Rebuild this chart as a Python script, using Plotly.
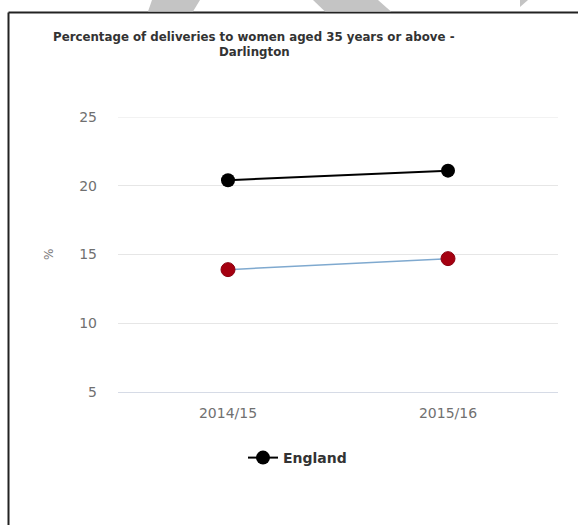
import plotly.graph_objects as go

# Financial years on the category axis
periods = ["2014/15", "2015/16"]

# Percentage of deliveries to women aged 35+
england = [20.4, 21.1]
darlington = [13.9, 14.7]

y_ticks = [5, 10, 15, 20, 25]
y_top = 25

title_lines = ["Percentage of deliveries to women aged 35 years or above -", "Darlington"]

W, H = 578, 525
ML, MR, MT, MB = 118, 20, 117, 133
PW, PH = W - ML - MR, H - MT - MB


def px(x):
    return (x - ML) / PW


def py(y):
    return (H - MB - y) / PH


fig = go.Figure()

fig.add_trace(go.Scatter(
    x=periods, y=england, name="England", mode="lines+markers",
    line=dict(color="#000000", width=2),
    marker=dict(color="#000000", size=14, symbol="circle"),
    showlegend=True,
))

fig.add_trace(go.Scatter(
    x=periods, y=darlington, name="Darlington", mode="lines+markers",
    line=dict(color="#7fa9cf", width=1.5),
    marker=dict(color="#a50010", size=14, symbol="circle",
                line=dict(color="#8a0010", width=1)),
    showlegend=False,
))

# Frame around the chart panel, top gridline and the grey wedges above the frame
shapes = [
    dict(type="line", xref="paper", yref="paper",
         x0=px(8.5), x1=px(W + 5), y0=py(12.5), y1=py(12.5),
         line=dict(color="#222222", width=2)),
    dict(type="line", xref="paper", yref="paper",
         x0=px(8.5), x1=px(8.5), y0=py(12.5), y1=py(H + 5),
         line=dict(color="#222222", width=2)),
    dict(type="line", xref="paper", yref="y", x0=0, x1=1, y0=y_top, y1=y_top,
         line=dict(color="#e6e6e6", width=1), layer="below"),
]
wedges = [
    [(152, 0), (200, 0), (193, 11.5), (148, 11.5)],
    [(313, 0), (378, 0), (391, 11.5), (325, 11.5)],
    [(520, 0), (528, 0), (520, 7)],
]
for pts in wedges:
    path = "M " + " L ".join(f"{px(a):.5f},{py(b):.5f}" for a, b in pts) + " Z"
    shapes.append(dict(type="path", xref="paper", yref="paper", path=path,
                       fillcolor="#c4c4c4", line=dict(width=0)))

annotations = [
    dict(text="<b>" + title_lines[0] + "</b>", xref="paper", yref="paper",
         x=px(254), y=py(37), xanchor="center", yanchor="middle", showarrow=False,
         font=dict(family="DejaVu Sans", size=11.8, color="#333333")),
    dict(text="<b>" + title_lines[1] + "</b>", xref="paper", yref="paper",
         x=px(254), y=py(52), xanchor="center", yanchor="middle", showarrow=False,
         font=dict(family="DejaVu Sans", size=11.8, color="#333333")),
    dict(text="%", xref="paper", yref="paper", x=px(49), y=py(255),
         xanchor="center", yanchor="middle", showarrow=False, textangle=-90,
         font=dict(family="DejaVu Sans", size=12, color="#777777")),
]

fig.update_layout(
    width=W, height=H,
    margin=dict(l=ML, r=MR, t=MT, b=MB, pad=0),
    paper_bgcolor="#ffffff", plot_bgcolor="#ffffff",
    shapes=shapes, annotations=annotations,
    font=dict(family="DejaVu Sans", color="#606060"),
    legend=dict(orientation="h", x=px(243), y=py(442), xanchor="left", yanchor="top",
                font=dict(family="DejaVu Sans", size=14, color="#333333", weight="bold"),
                bgcolor="rgba(0,0,0,0)"),
    xaxis=dict(type="category", range=[-0.5, 1.5], showgrid=False,
               showline=True, linecolor="#d6dbe6", linewidth=1,
               zeroline=False, ticks="", ticklabelstandoff=8,
               tickfont=dict(family="DejaVu Sans", size=14, color="#707070")),
    yaxis=dict(range=[5, 25], tickvals=y_ticks, showgrid=True, gridcolor="#e6e6e6",
               gridwidth=1, zeroline=False, showline=False, ticks="",
               ticklabelstandoff=20,
               tickfont=dict(family="DejaVu Sans", size=14, color="#707070")),
)

fig.write_html("out.html")
